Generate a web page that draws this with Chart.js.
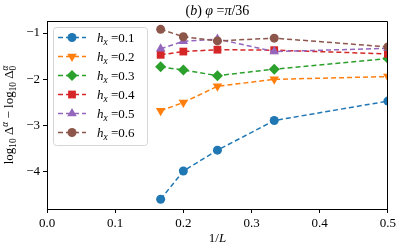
<!DOCTYPE html>
<html><head><meta charset="utf-8">
<script src="https://cdn.jsdelivr.net/npm/chart.js@4/dist/chart.umd.min.js"></script>
<style>html,body{margin:0;padding:0;background:#fff}#wrap{width:399px;height:248px;position:relative}</style>
</head><body><div id="wrap"><canvas id="c" width="399" height="248"></canvas></div>
<script>
// ---- data ----
const invL = [0.1667, 0.2, 0.25, 0.3333, 0.5];
const hxLabels = ['0.1', '0.2', '0.3', '0.4', '0.5', '0.6'];
const hx01 = [-4.59, -3.98, -3.53, -2.89, -2.47];
const hx02 = [-2.68, -2.50, -2.15, -2.00, -1.94];
const hx03 = [-1.73, -1.80, -1.92, -1.78, -1.55];
const hx04 = [-1.47, -1.40, -1.36, -1.37, -1.45];
const hx05 = [-1.34, -1.18, -1.13, -1.40, -1.33];
const hx06 = [-0.92, -1.08, -1.17, -1.11, -1.30];
const xTicks = [0, 0.1, 0.2, 0.3, 0.4, 0.5];
const yTicks = [-4, -3, -2, -1];

const colors = ['#1f77b4', '#ff7f0e', '#2ca02c', '#d62728', '#9467bd', '#8c564b'];
const SERIF = '"Liberation Serif", "DejaVu Serif", serif';

const styles = [
  {pointStyle: 'circle', radius: 4.5, rot: 0},
  {pointStyle: 'triangle', radius: 5.5, rot: 180},
  {pointStyle: 'rectRot', radius: 5.5, rot: 0},
  {pointStyle: 'rect', radius: 5.5, rot: 0},
  {pointStyle: 'triangle', radius: 5.5, rot: 0},
  {pointStyle: 'circle', radius: 4.5, rot: 0}
];
const series = [hx01, hx02, hx03, hx04, hx05, hx06];

const datasets = series.map((s, i) => ({
  label: 'h_x =' + hxLabels[i],
  data: s.map((v, j) => ({x: invL[j], y: v})),
  borderColor: colors[i],
  backgroundColor: colors[i],
  borderWidth: 1.5,
  borderDash: [5, 3],
  pointStyle: styles[i].pointStyle,
  pointRadius: styles[i].radius,
  pointRotation: styles[i].rot,
  pointBorderWidth: 0,
  pointHoverRadius: styles[i].radius,
  fill: false,
  tension: 0,
  order: 6 - i
}));

// rich text helper
function drawRich(ctx, segs, x, y, baseSize, align) {
  const parts = segs.map(s => {
    const size = baseSize * (s.scale || 1);
    const font = (s.it ? 'italic ' : '') + size + 'px ' + SERIF;
    ctx.font = font;
    return {t: s.t, font, w: ctx.measureText(s.t).width, dy: (s.dy || 0) * baseSize, adv: s.noAdv ? 0 : 1};
  });
  let total = 0;
  parts.forEach(p => total += p.adv ? p.w : 0);
  let cx = align === 'center' ? x - total / 2 : x;
  ctx.textBaseline = 'alphabetic';
  ctx.textAlign = 'left';
  parts.forEach(p => {
    ctx.font = p.font;
    ctx.fillText(p.t, cx, y + p.dy);
    if (p.adv) cx += p.w;
  });
}

function drawMarker(ctx, i, x, y) {
  const r = styles[i].radius;
  ctx.save();
  ctx.fillStyle = colors[i];
  ctx.beginPath();
  if (i === 0 || i === 5) { ctx.arc(x, y, r, 0, Math.PI * 2); }
  else if (i === 1 || i === 4) {
    const sgn = i === 1 ? -1 : 1;
    ctx.moveTo(x, y - sgn * r);
    ctx.lineTo(x - r * 0.866, y + sgn * r * 0.5);
    ctx.lineTo(x + r * 0.866, y + sgn * r * 0.5);
    ctx.closePath();
  } else if (i === 2) {
    ctx.moveTo(x, y - r); ctx.lineTo(x + r, y); ctx.lineTo(x, y + r); ctx.lineTo(x - r, y); ctx.closePath();
  } else if (i === 3) {
    const s = r * Math.SQRT1_2;
    ctx.rect(x - s, y - s, 2 * s, 2 * s);
  }
  ctx.fill();
  ctx.restore();
}

const decor = {
  id: 'decor',
  afterDatasetsDraw(chart) {
    const ctx = chart.ctx, a = chart.chartArea;
    ctx.save();
    // top and right spines
    ctx.strokeStyle = '#000'; ctx.lineWidth = 1;
    ctx.beginPath();
    ctx.moveTo(a.left, Math.round(a.top) + 0.5);
    ctx.lineTo(Math.round(a.right) - 0.5, Math.round(a.top) + 0.5);
    ctx.lineTo(Math.round(a.right) - 0.5, a.bottom);
    ctx.stroke();
    // legend box
    const lx = 53, ly = 27, lw = 94, lh = 118;
    ctx.fillStyle = 'rgba(255,255,255,0.85)';
    ctx.strokeStyle = '#d6d6d6';
    ctx.lineWidth = 1;
    ctx.beginPath();
    if (ctx.roundRect) ctx.roundRect(lx + 0.5, ly + 0.5, lw, lh, 3); else ctx.rect(lx + 0.5, ly + 0.5, lw, lh);
    ctx.fill(); ctx.stroke();
    for (let i = 0; i < 6; i++) {
      const y = 37.5 + i * 19;
      ctx.strokeStyle = colors[i];
      ctx.lineWidth = 1.5;
      ctx.setLineDash([5, 3]);
      ctx.beginPath(); ctx.moveTo(58, y); ctx.lineTo(86, y); ctx.stroke();
      ctx.setLineDash([]);
      drawMarker(ctx, i, 72, y);
      ctx.fillStyle = '#000';
      drawRich(ctx, [
        {t: 'h', it: true},
        {t: 'x', it: true, scale: 0.72, dy: 0.22},
        {t: ' =' + hxLabels[i]}
      ], 97, y + 4.5, 13, 'left');
    }
    // title
    ctx.fillStyle = '#000';
    drawRich(ctx, [
      {t: '('}, {t: 'b', it: true}, {t: ') '}, {t: 'φ', it: true}, {t: ' ='}, {t: 'π', it: true}, {t: '/36'}
    ], (a.left + a.right) / 2, 15, 14, 'center');
    // x title
    drawRich(ctx, [{t: '1/'}, {t: 'L', it: true}], (a.left + a.right) / 2, 242, 13, 'center');
    // y title (rotated)
    ctx.save();
    ctx.translate(13, (a.top + a.bottom) / 2);
    ctx.rotate(-Math.PI / 2);
    drawRich(ctx, [
      {t: 'log'}, {t: '10', scale: 0.72, dy: 0.25}, {t: ' Δ'}, {t: 'α', it: true, scale: 0.72, dy: -0.4},
      {t: ' − log'}, {t: '10', scale: 0.72, dy: 0.25}, {t: ' Δ'},
      {t: 'α', it: true, scale: 0.72, dy: -0.4, noAdv: true}, {t: '0', scale: 0.72, dy: 0.25}
    ], 0, 0, 13, 'center');
    ctx.restore();
    ctx.restore();
  }
};

new Chart(document.getElementById('c'), {
  type: 'line',
  data: {datasets},
  options: {
    responsive: false,
    animation: false,
    devicePixelRatio: 1,
    layout: {padding: {left: 0, right: 11, top: 21, bottom: 0}},
    plugins: {legend: {display: false}, tooltip: {enabled: false}, title: {display: false}},
    scales: {
      x: {
        type: 'linear', min: 0, max: 0.5,
        afterBuildTicks: s => { s.ticks = xTicks.map(v => ({value: v})); },
        afterFit: s => { s.height = 39; },
        grid: {display: true, drawOnChartArea: false, drawTicks: true, tickLength: 4, color: '#000'},
        border: {display: true, color: '#000', width: 1},
        ticks: {color: '#000', font: {family: SERIF, size: 13}, padding: 3, maxRotation: 0,
          callback: v => v.toFixed(1)}
      },
      y: {
        type: 'linear', min: -4.8, max: -0.74,
        afterBuildTicks: s => { s.ticks = yTicks.map(v => ({value: v})); },
        afterFit: s => { s.width = 47; },
        grid: {display: true, drawOnChartArea: false, drawTicks: true, tickLength: 4, color: '#000'},
        border: {display: true, color: '#000', width: 1},
        ticks: {color: '#000', font: {family: SERIF, size: 13}, padding: 3,
          callback: v => '−' + Math.abs(v)}
      }
    }
  },
  plugins: [decor]
});
</script></body></html>
